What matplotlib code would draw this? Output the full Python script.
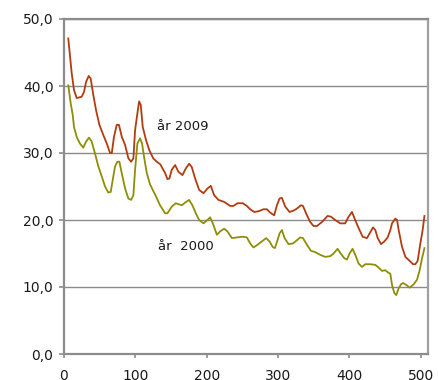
import matplotlib
matplotlib.use("Agg")
import matplotlib.pyplot as plt

# år 2009 (röd)
x_2009 = [6, 10.8, 14, 17.8, 24.8, 28, 30.9, 34.6, 37.4, 41, 44.9, 49.6, 55, 60, 64.5, 67,
          70, 73.9, 77, 81, 85.6, 90.2, 94, 97.2, 99.6, 102.8, 105.2, 107.5, 110.3, 115,
          119.6, 125, 130, 135, 141.7, 144.9, 147.7, 151, 155.7, 160.3, 166, 170.7, 175.3,
          179, 183.7, 189.3, 195.4, 201, 205.7, 210.4, 216.4, 224.4, 232.8, 237.4, 243,
          250.6, 256.2, 260.9, 266.5, 272.5, 279.5, 284.3, 288.9, 294.5, 298.3, 302, 305.3,
          310, 316, 321.6, 326.3, 332, 334.8, 340.4, 345, 349.7, 354.4, 361.4, 369.3, 374,
          380, 387, 394, 398.8, 403.5, 408, 412.8, 418.4, 424.5, 428.2, 433, 436.2, 439.5,
          444.2, 448.8, 453.5, 457.2, 459.6, 464.2, 466.6, 468.9, 473.6, 478.3, 484.3, 489,
          492.3, 495.5, 499.3, 502.5, 505]
y_2009 = [47.1, 41.9, 39.4, 38.2, 38.4, 39.1, 40.6, 41.5, 41.1, 38.7, 36.4, 34.2, 32.7, 31.4,
          30.0, 30.0, 32.4, 34.2, 34.2, 32.4, 31.2, 29.2, 28.7, 29.2, 33.4, 35.9, 37.7, 37.2,
          33.9, 31.9, 30.4, 29.2, 28.7, 28.3, 27.0, 26.1, 26.2, 27.5, 28.2, 27.2, 26.7, 27.7,
          28.4, 27.9, 26.2, 24.5, 24.0, 24.7, 25.1, 23.7, 23.0, 22.7, 22.1, 22.1, 22.5, 22.5,
          22.1, 21.6, 21.2, 21.3, 21.6, 21.6, 21.1, 20.7, 22.2, 23.2, 23.3, 22.0, 21.2, 21.4,
          21.7, 22.2, 22.1, 20.7, 19.7, 19.1, 19.1, 19.7, 20.6, 20.5, 20.0, 19.5, 19.5, 20.5,
          21.2, 20.0, 18.8, 17.5, 17.3, 18.0, 18.9, 18.5, 17.3, 16.4, 16.8, 17.4, 18.5, 19.5,
          20.2, 20.0, 18.5, 16.0, 14.5, 13.9, 13.4, 13.4, 13.9, 16.5, 18.5, 20.6]

# år 2000 (olivgrön)
x_2000 = [6, 9.4, 12.2, 14, 17.8, 22.4, 27, 30.9, 35, 38.8, 43.5, 48.1, 52.9, 57.5, 62.1,
          65.5, 68.3, 71.5, 74.8, 77.6, 80.9, 85.6, 90.2, 94, 97.2, 99.6, 102.8, 106.6,
          109.4, 112.2, 116, 120.6, 127.6, 134.6, 141.7, 144.9, 151, 156.7, 165.1, 169.7,
          175.3, 179.9, 184.7, 189.3, 195.4, 201, 204.8, 208.5, 214.2, 218.8, 224.4, 229,
          235.2, 242.2, 250.6, 256.2, 260.9, 265.5, 271.1, 277.3, 283.3, 288, 292.2, 295.5,
          299.2, 302, 305.3, 309, 314.6, 320.8, 325.4, 331, 334.8, 340.4, 346, 352, 359, 366,
          373, 377.7, 383.3, 387, 392.7, 396.5, 400.1, 404.3, 408.1, 412.8, 417.5, 422.2,
          429.2, 436.2, 440.8, 445.6, 450.2, 454.8, 457.2, 459.6, 462.8, 465.6, 468.9, 472.2,
          475, 479.7, 484.3, 489.9, 494.7, 498.3, 501.7, 505]
y_2000 = [40.1, 37.4, 35.7, 33.9, 32.4, 31.4, 30.8, 31.7, 32.3, 31.7, 29.9, 28.0, 26.5, 25.0,
          24.1, 24.2, 26.0, 28.0, 28.7, 28.7, 27.0, 24.7, 23.2, 23.0, 23.7, 27.5, 31.4, 32.2,
          31.4, 29.4, 27.0, 25.3, 23.8, 22.2, 21.0, 21.0, 22.0, 22.5, 22.2, 22.6, 23.0, 22.2,
          21.0, 20.0, 19.5, 20.0, 20.4, 19.5, 17.8, 18.3, 18.7, 18.3, 17.3, 17.4, 17.5, 17.4,
          16.5, 15.9, 16.3, 16.8, 17.3, 16.8, 16.0, 15.8, 17.0, 18.0, 18.5, 17.3, 16.4, 16.5,
          16.9, 17.4, 17.3, 16.3, 15.4, 15.2, 14.8, 14.5, 14.6, 15.0, 15.7, 15.1, 14.3, 14.1,
          15.0, 15.7, 14.8, 13.5, 13.0, 13.4, 13.4, 13.3, 12.9, 12.4, 12.5, 12.1, 12.0, 10.3,
          9.1, 8.8, 9.8, 10.4, 10.6, 10.3, 9.9, 10.4, 11.1, 12.5, 14.3, 15.8]

y_ticks = [0, 10, 20, 30, 40, 50]
y_labels = ["0,0", "10,0", "20,0", "30,0", "40,0", "50,0"]
x_ticks = [0, 100, 200, 300, 400, 500]

fig = plt.figure(figsize=(4.38, 3.80), dpi=100)
ax = fig.add_axes([64 / 438, 26 / 380, 364 / 438, 335 / 380])

# rutnät
for yv in y_ticks[1:]:
    ax.axhline(yv, color="#8a8a8a", lw=1.0, zorder=1)

ax.plot(x_2009, y_2009, color="#B23C10", lw=1.3, zorder=3)
ax.plot(x_2000, y_2000, color="#8E8E08", lw=1.3, zorder=3)

ax.text(130.5, 34.0, "år 2009", fontsize=9.5, color="#1a1a1a", va="center", ha="left")
ax.text(132, 16.1, "år  2000", fontsize=9.5, color="#1a1a1a", va="center", ha="left")

ax.set_xlim(0, 510)
ax.set_ylim(0, 50)
ax.set_yticks(y_ticks)
ax.set_yticklabels(y_labels)
ax.set_xticks(x_ticks)

for side in ["left", "bottom", "right", "top"]:
    ax.spines[side].set_color("#8c8c8c")
    ax.spines[side].set_linewidth(1.6)
ax.spines["right"].set_color("#a0a0a0")

ax.tick_params(axis="y", length=3.3, width=1.2, color="#8c8c8c", pad=4.3,
               labelsize=10, labelcolor="#1a1a1a")
ax.tick_params(axis="x", length=3.0, width=1.2, color="#8c8c8c", pad=8,
               labelsize=10, labelcolor="#1a1a1a")

fig.savefig("out.png", dpi=100)
